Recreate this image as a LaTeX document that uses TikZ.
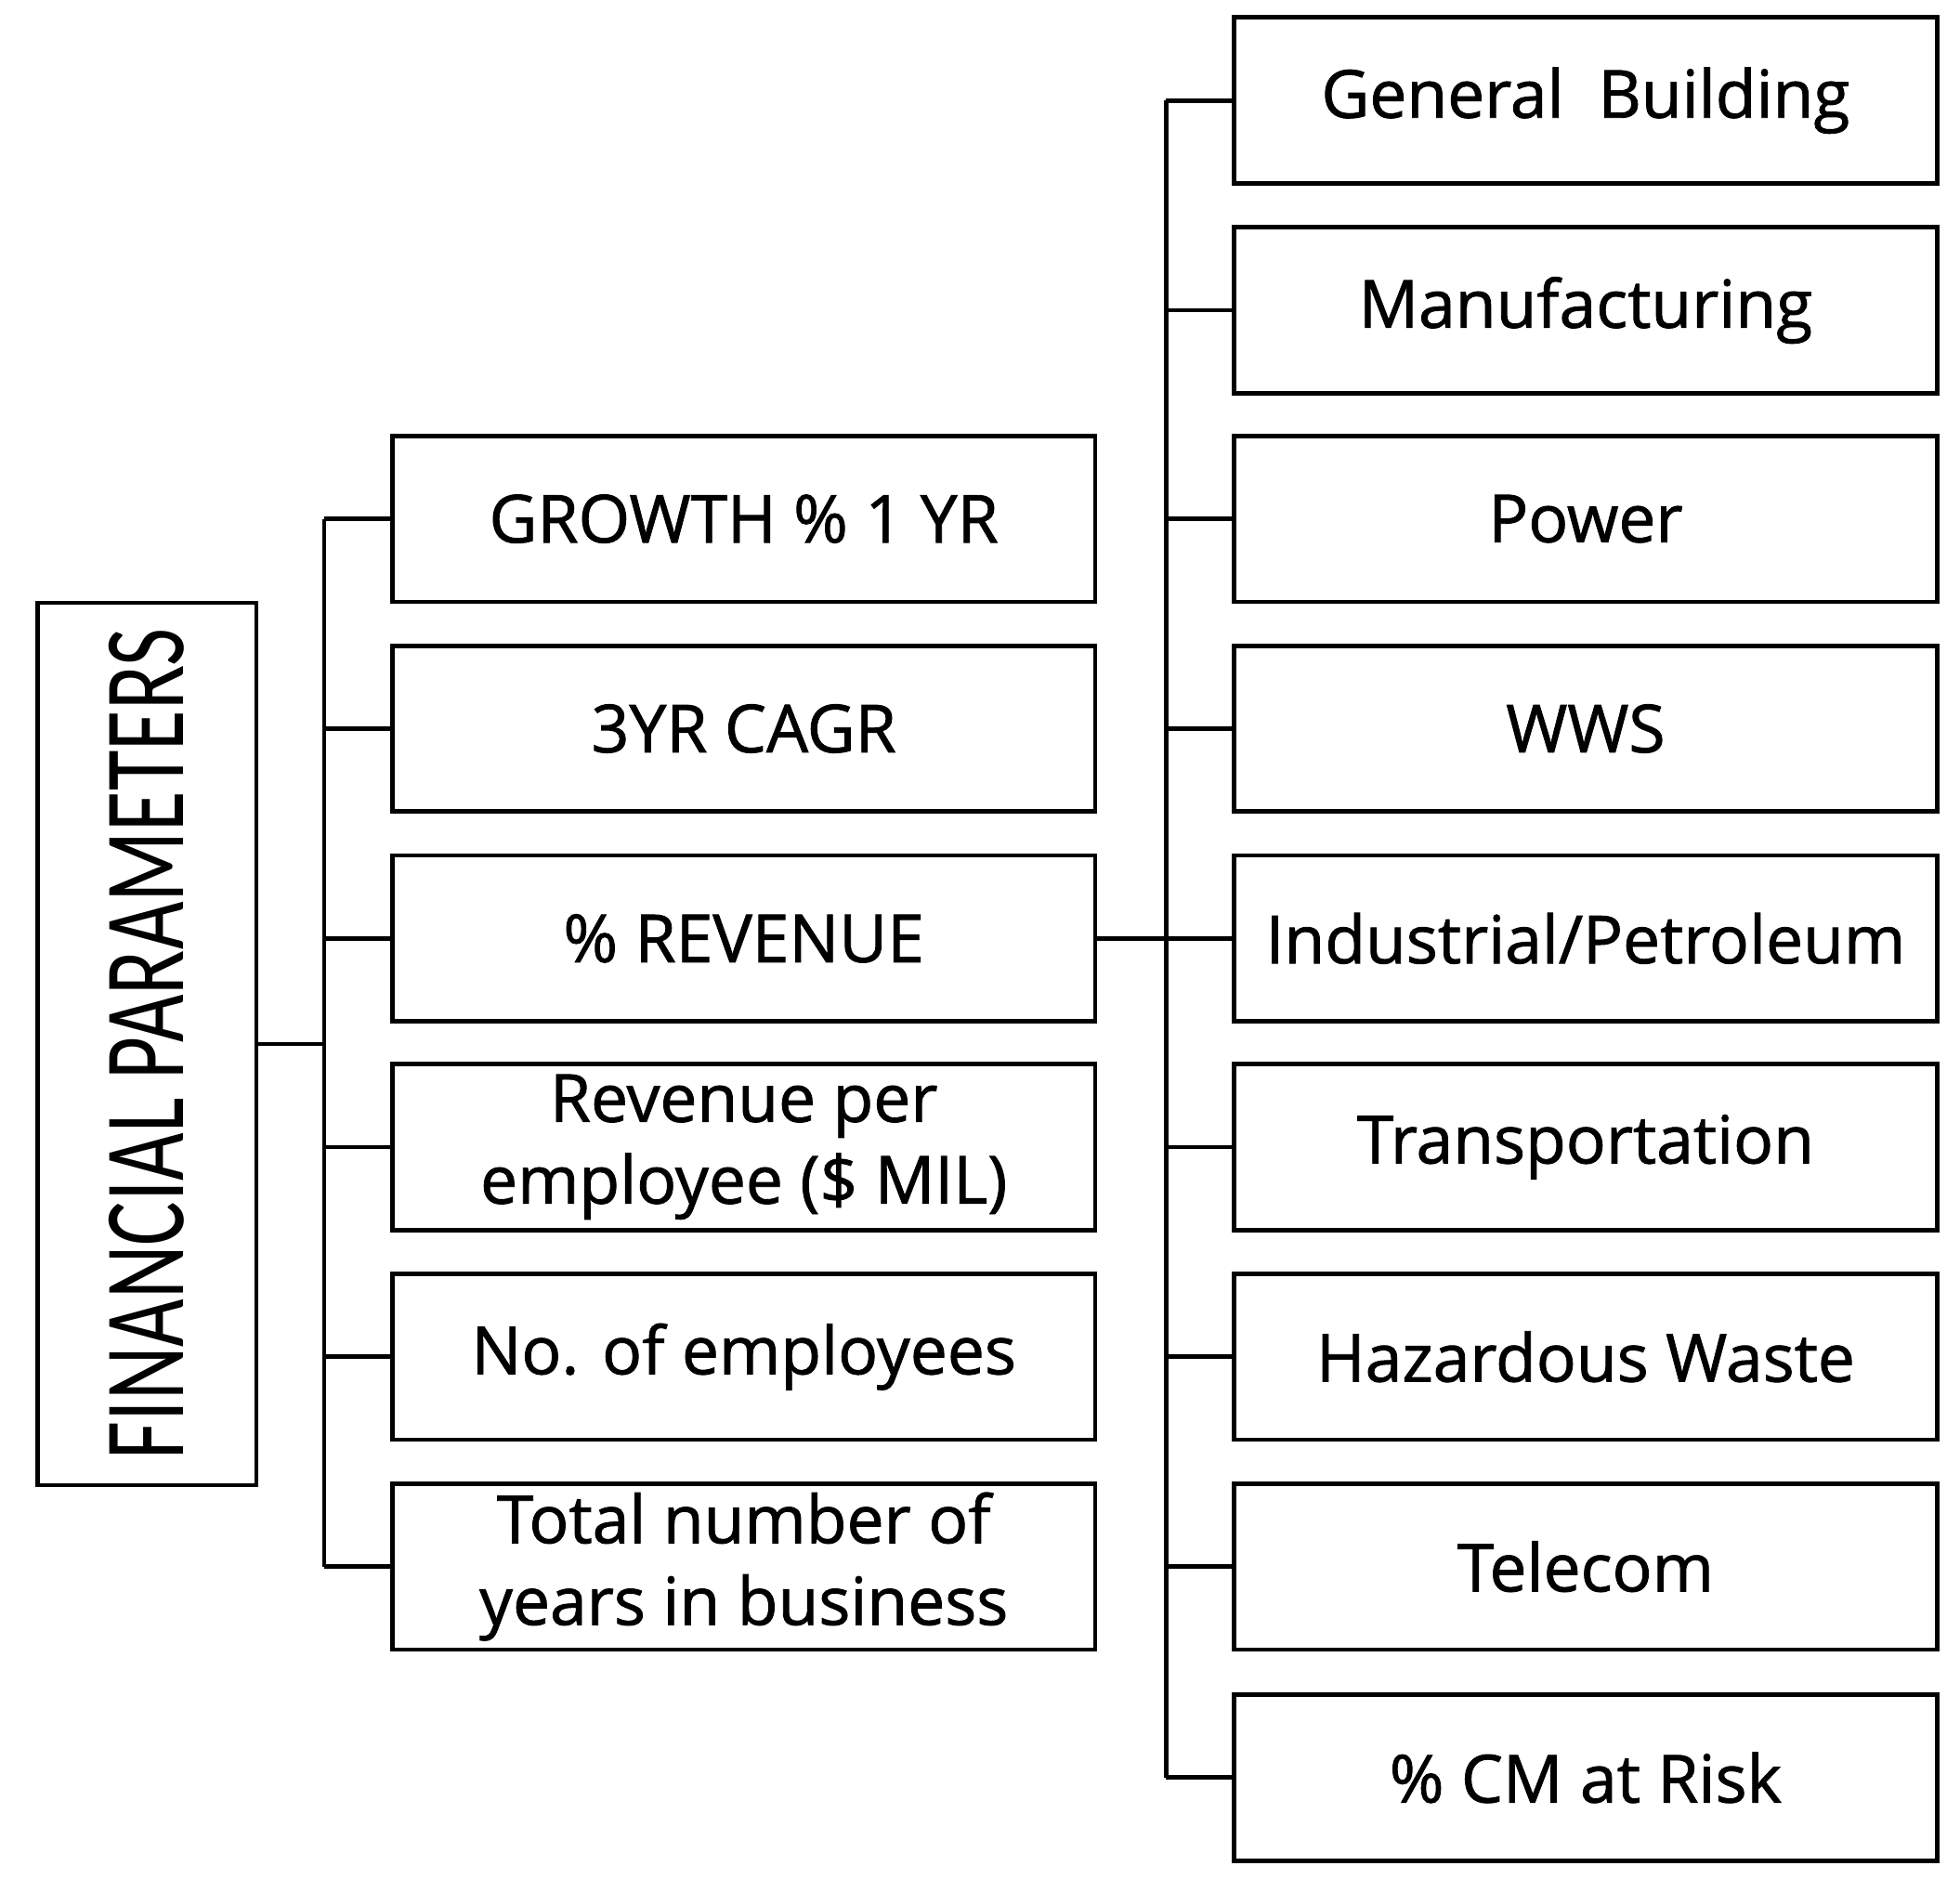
\documentclass[tikz,border=0pt]{standalone}
\usepackage{fontspec}
\setmainfont{Open Sans}[FakeBold=1.2,AutoFakeBold=1.2]
\newfontfamily\carl{Carlito}
\begin{document}
\begin{tikzpicture}[x=0.01cm,y=-0.01cm,
  bx/.style={draw,line width=1pt,minimum width=5.59cm,minimum height=1.32cm,align=center,font=\bfseries\fontsize{15}{18.5}\selectfont,inner sep=0pt},
  ln/.style={line width=1pt}]
\useasboundingbox (0,0) rectangle (1560,1495);
\node[draw,line width=1pt,minimum width=1.74cm,minimum height=7.02cm,inner sep=0pt] (fp) at (117,831) {};
\node[rotate=90,font=\carl\fontsize{26}{30}\selectfont,xscale=0.72] (fpt) at (117,831) {FINANCIAL PARAMETERS};
\foreach \n/\y/\t in {m1/413/{GROWTH \% 1 YR},m2/580/{3YR CAGR},m3/747/{\% REVENUE},m4/913/{Revenue per\\employee (\$ MIL)},m5/1080/{No. of employees},m6/1247/{Total number of\\years in business}}
  \node[bx] (\n) at (592,\y) {\t};
\foreach \n/\y/\t in {r1/80/{General\ \ Building},r2/247/{Manufacturing},r3/413/{Power},r4/580/{WWS},r5/747/{Industrial/Petroleum},r6/913/{Transportation},r7/1080/{Hazardous Waste},r8/1247/{Telecom},r9/1415/{\% CM at Risk}}
  \node[bx] (\n) at (1262,\y) {\t};
\coordinate (ls1) at (258,413); \coordinate (ls2) at (258,1247);
\draw[ln] (ls1) -- (ls2);
\draw[ln] (fp.east) -- (258,831);
\foreach \n in {m1,m2,m3,m4,m5,m6} \draw[ln] (\n.west) -- (\n.west -| ls1);
\coordinate (rs1) at (928,80); \coordinate (rs2) at (928,1415);
\draw[ln] (rs1) -- (rs2);
\draw[ln] (m3.east) -- (928,747);
\foreach \n in {r1,r2,r3,r4,r5,r6,r7,r8,r9} \draw[ln] (\n.west) -- (\n.west -| rs1);
\end{tikzpicture}
\end{document}
